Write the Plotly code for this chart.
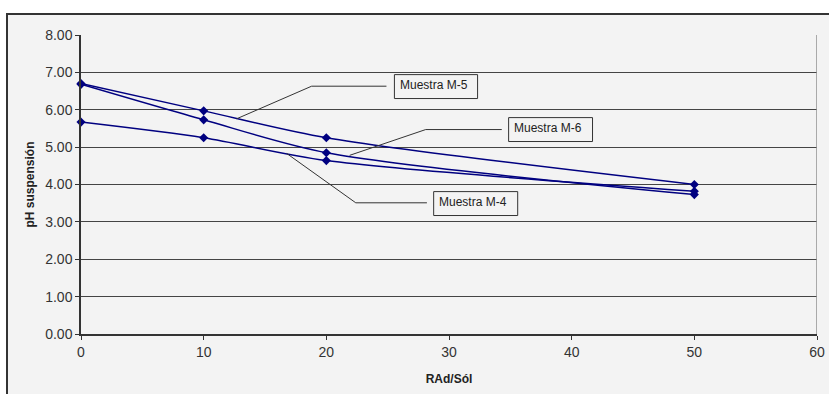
import plotly.graph_objects as go

x_vals = [0, 10, 20, 50]
m5 = [6.70, 5.97, 5.25, 4.00]
m6 = [6.68, 5.73, 4.85, 3.73]
m4 = [5.67, 5.25, 4.64, 3.82]

series = [("Muestra M-5", m5), ("Muestra M-6", m6), ("Muestra M-4", m4)]

# callout label positions (data coords): leader start, elbow, end, box
callouts = {
    "Muestra M-5": dict(pts=[(12.7, 5.76), (18.8, 6.63), (24.9, 6.63)], box=(25.55, 6.30, 32.33, 6.94)),
    "Muestra M-6": dict(pts=[(21.9, 4.78), (28.1, 5.47), (34.3, 5.47)], box=(34.86, 5.15, 41.7, 5.79)),
    "Muestra M-4": dict(pts=[(16.77, 4.83), (22.4, 3.51), (28.2, 3.51)], box=(28.75, 3.17, 35.6, 3.81)),
}

fig = go.Figure()
navy = "#000080"
for name, ys in series:
    fig.add_trace(go.Scatter(
        x=x_vals, y=ys, name=name, mode="lines+markers",
        line=dict(color=navy, width=1.5, shape="spline", smoothing=0.8),
        marker=dict(symbol="diamond", size=7, color=navy),
        showlegend=False, cliponaxis=False,
    ))

W, H = 829, 394
ml, mr, mt, mb = 81, 12, 35, 60
pw, ph = W - ml - mr, H - mt - mb

shapes = []
# chart area frame
shapes.append(dict(type="rect", xref="paper", yref="paper",
                   x0=(7 - ml) / pw, x1=(W + 20 - ml) / pw,
                   y0=-(H + 20 - mt - ph) / ph, y1=1 + (mt - 14) / ph,
                   line=dict(color="#333333", width=2), fillcolor="#f3f3f3", layer="below"))
# right border of plot area
shapes.append(dict(type="line", xref="x", yref="y", x0=60, x1=60, y0=0, y1=8,
                   line=dict(color="#909090", width=1.5)))

annotations = []
for name, c in callouts.items():
    p = c["pts"]
    for (xa, ya), (xb, yb) in zip(p[:-1], p[1:]):
        shapes.append(dict(type="line", xref="x", yref="y", x0=xa, y0=ya, x1=xb, y1=yb,
                           line=dict(color="#333333", width=1)))
    bx0, by0, bx1, by1 = c["box"]
    shapes.append(dict(type="rect", xref="x", yref="y", x0=bx0, y0=by0, x1=bx1, y1=by1,
                       line=dict(color="#333333", width=1), fillcolor="#f3f3f3"))
    annotations.append(dict(x=bx0 + 0.3, y=by1 - 0.05, xref="x", yref="y", text=name,
                            showarrow=False, xanchor="left", yanchor="top",
                            font=dict(family="Arial, Liberation Sans", size=12, color="#222222")))

fig.update_layout(
    width=W, height=H,
    margin=dict(l=ml, r=mr, t=mt, b=mb, autoexpand=False),
    paper_bgcolor="white", plot_bgcolor="#f3f3f3",
    shapes=shapes, annotations=annotations,
    font=dict(family="Arial, Liberation Sans", color="#333333"),
    xaxis=dict(range=[0, 60], tickvals=[0, 10, 20, 30, 40, 50, 60], showgrid=False,
               zeroline=False, showline=True, linecolor="#333333", linewidth=1.5,
               ticks="outside", ticklen=4, tickcolor="#333333", automargin=False,
               tickfont=dict(size=14, color="#333333"),
               title=dict(text="<b>RAd/Sól</b>", font=dict(size=12, color="#222222"), standoff=16)),
    yaxis=dict(range=[0, 8], tickvals=[0, 1, 2, 3, 4, 5, 6, 7, 8], tickformat=".2f",
               showgrid=True, gridcolor="#444444", gridwidth=1, zeroline=False,
               showline=True, linecolor="#333333", linewidth=1.5, automargin=False,
               ticks="outside", ticklen=4, tickcolor="#333333",
               tickfont=dict(size=14, color="#333333"),
               title=dict(text="<b>pH suspensión</b>", font=dict(size=12, color="#222222"), standoff=8)),
)

fig.write_html("out.html")
